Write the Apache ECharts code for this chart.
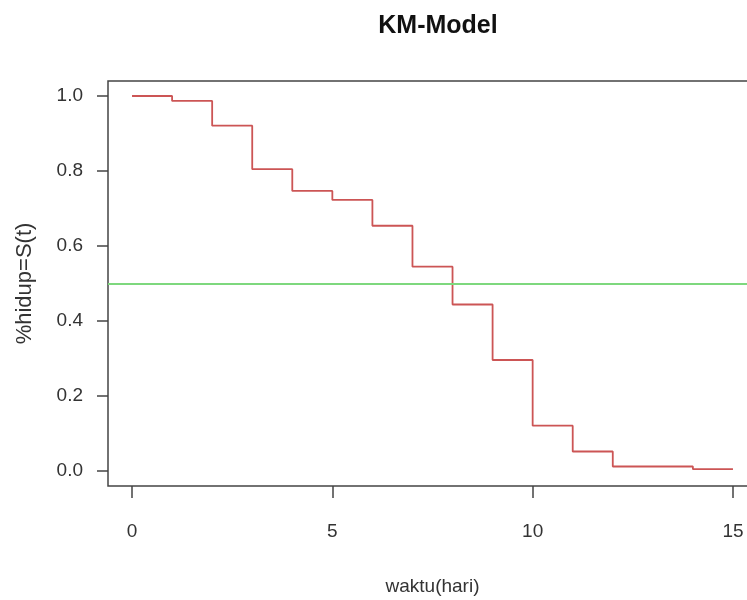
<!DOCTYPE html>
<html>
<head>
<meta charset="utf-8">
<script src="https://cdn.jsdelivr.net/npm/echarts@6/dist/echarts.min.js"></script>
<style>
  html, body { margin: 0; padding: 0; background: #fff; }
  #chart { width: 747px; height: 600px; }
</style>
</head>
<body>
<div id="chart"></div>
<script>
// waktu (hari) dan nilai S(t) yang dibaca dari kurva KM
var waktu = [0, 1, 2, 3, 4, 5, 6, 7, 8, 9, 10, 11, 12, 14, 15]
var survival = [1.0, 0.987, 0.921, 0.805, 0.747, 0.723, 0.654, 0.545, 0.444, 0.296, 0.121, 0.052, 0.012, 0.005, 0.005]
var medianLine = 0.5
var xTicks = [0, 5, 10, 15]
var yTicks = [0, 0.2, 0.4, 0.6, 0.8, 1.0]

var kmData = waktu.map(function (t, i) { return [t, survival[i]] })

var chart = echarts.init(document.getElementById('chart'))
var axisColor = '#444'
var labelFont = 'Liberation Sans, Arial, sans-serif'

var option = {
  animation: false,
  title: {
    text: 'KM-Model',
    left: 433,
    top: 9,
    textAlign: 'center',
    textStyle: { fontFamily: labelFont, fontSize: 25, fontWeight: 'bold', color: '#111' }
  },
  grid: {
    left: 108,
    top: 81,
    width: 649,
    height: 405,
    outerBoundsMode: 'none',
    containLabel: false,
    show: true,
    borderColor: axisColor,
    borderWidth: 1.5,
    backgroundColor: 'transparent'
  },
  xAxis: {
    type: 'value',
    min: -0.6,
    max: 15.6,
    name: 'waktu(hari)',
    nameLocation: 'middle',
    nameGap: 91,
    nameTextStyle: { fontFamily: labelFont, fontSize: 19, color: '#333' },
    axisLine: { show: false, onZero: false },
    splitLine: { show: false },
    axisTick: { show: true, length: 12, customValues: xTicks, lineStyle: { color: axisColor, width: 1.5 } },
    axisLabel: { customValues: xTicks, margin: 36, fontFamily: labelFont, fontSize: 19, color: '#333' }
  },
  yAxis: {
    type: 'value',
    min: -0.04,
    max: 1.04,
    name: '%hidup=S(t)',
    nameLocation: 'middle',
    nameGap: 72,
    nameTextStyle: { fontFamily: labelFont, fontSize: 22, color: '#333' },
    axisLine: { show: false, onZero: false },
    splitLine: { show: false },
    axisTick: { show: true, length: 11, customValues: yTicks, lineStyle: { color: axisColor, width: 1.5 } },
    axisLabel: {
      customValues: yTicks,
      margin: 25,
      fontFamily: labelFont,
      fontSize: 19,
      color: '#333',
      formatter: function (v) { return v.toFixed(1) }
    }
  },
  series: [
    {
      name: 'KM',
      type: 'line',
      step: 'end',
      data: kmData,
      showSymbol: false,
      lineStyle: { color: '#cc5555', width: 1.8 },
      markLine: {
        silent: true,
        symbol: ['none', 'none'],
        label: { show: false },
        lineStyle: { color: '#7ed87e', width: 2, type: 'solid' },
        data: [{ yAxis: medianLine }]
      }
    }
  ]
}

chart.setOption(option)
</script>
</body>
</html>
